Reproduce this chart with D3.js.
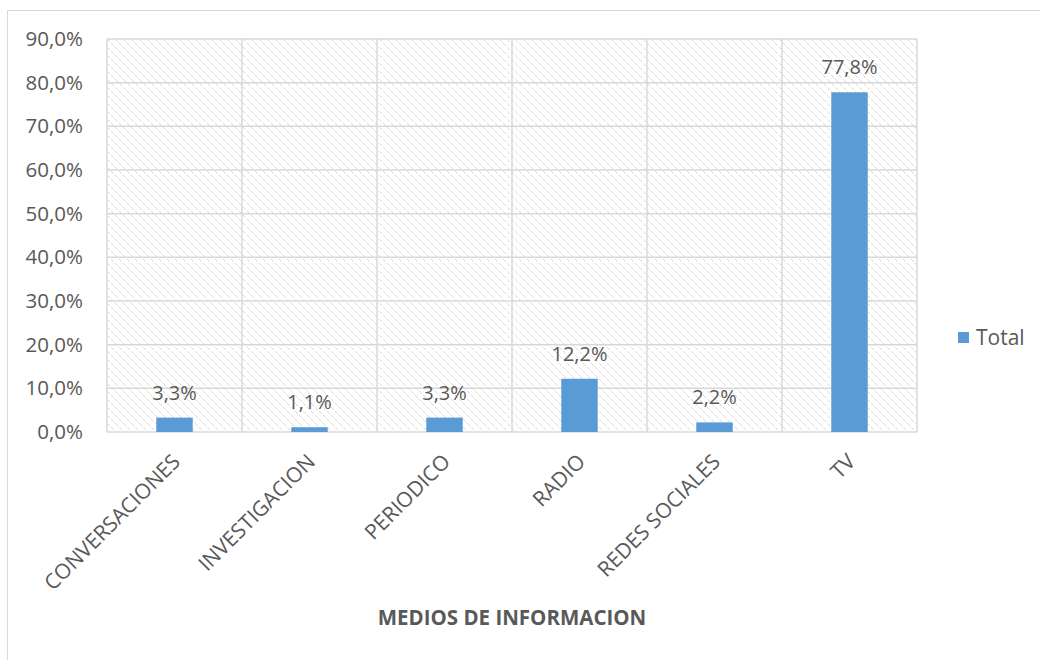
<!DOCTYPE html>
<html>
<head>
<meta charset="utf-8">
<script src="https://cdn.jsdelivr.net/npm/d3@7"></script>
<style>
  body { margin: 0; background: #fff; }
  text { font-family: "Open Sans", "Noto Sans", sans-serif; fill: #595959; }
</style>
</head>
<body>
<script>
const categories = ['CONVERSACIONES', 'INVESTIGACION', 'PERIODICO', 'RADIO', 'REDES SOCIALES', 'TV']
const totals = [3.3, 1.1, 3.3, 12.2, 2.2, 77.8]
const yTicks = [0, 10, 20, 30, 40, 50, 60, 70, 80, 90]
const seriesName = 'Total'

const width = 1040
const height = 660
const margin = {top: 39, right: 123, bottom: 228, left: 107}
const plotW = width - margin.left - margin.right
const plotH = height - margin.top - margin.bottom
const fmt = v => d3.format('.1f')(v).replace('.', ',') + '%'

const svg = d3.select('body').append('svg')
  .attr('width', width)
  .attr('height', height)

// outer chart border
svg.append('rect')
  .attr('x', 7.5).attr('y', 10.5)
  .attr('width', width).attr('height', height)
  .attr('fill', 'none')
  .attr('stroke', '#d9d9d9')

// pixel hatch like excel's light downward diagonal
const defs = svg.append('defs')
const pat = defs.append('pattern')
  .attr('id', 'hatch')
  .attr('patternUnits', 'userSpaceOnUse')
  .attr('width', 8).attr('height', 8)
pat.selectAll('rect')
  .data(d3.range(8).filter(i => i % 4 !== 3))
  .enter()
  .append('rect')
  .attr('x', i => i).attr('y', i => i)
  .attr('width', 1).attr('height', 1)
  .attr('fill', '#d9d9d9')

const chart = svg.append('g')
  .attr('transform', `translate(${margin.left},${margin.top})`)

const x = d3.scaleBand()
  .domain(categories)
  .range([0, plotW])
  .paddingInner(0.73)
  .paddingOuter(0.365)

const xb = d3.scaleBand()
  .domain(categories)
  .range([0, plotW])

const y = d3.scaleLinear()
  .domain([0, 90])
  .range([plotH, 0])

chart.append('rect')
  .attr('width', plotW).attr('height', plotH)
  .attr('fill', 'url(#hatch)')
  .attr('shape-rendering', 'crispEdges')

// horizontal gridlines
chart.append('g')
  .selectAll('line')
  .data(yTicks)
  .enter()
  .append('line')
  .attr('x1', 0).attr('x2', plotW)
  .attr('y1', d => y(d)).attr('y2', d => y(d))
  .attr('stroke', '#d9d9d9')
  .attr('stroke-width', 1.5)

// vertical category separators
chart.append('g')
  .selectAll('line')
  .data(categories.concat(['end']))
  .enter()
  .append('line')
  .attr('x1', d => d === 'end' ? plotW : xb(d))
  .attr('x2', d => d === 'end' ? plotW : xb(d))
  .attr('y1', 0).attr('y2', plotH)
  .attr('stroke', '#d9d9d9')
  .attr('stroke-width', 1.5)

const yAxis = d3.axisLeft(y)
  .tickValues(yTicks)
  .tickFormat(fmt)
  .tickSize(0)
  .tickPadding(24)
const yg = chart.append('g').call(yAxis)
yg.select('.domain').remove()
yg.selectAll('text')
  .style('font-size', '20.5px')
  .style('font-family', '"Open Sans", sans-serif')
  .attr('fill', '#595959')

chart.selectAll('.bar')
  .data(totals)
  .enter()
  .append('rect')
  .attr('class', 'bar')
  .attr('x', (d, i) => x(categories[i]))
  .attr('y', d => y(d))
  .attr('width', x.bandwidth())
  .attr('height', d => plotH - y(d))
  .attr('fill', '#5b9bd5')

chart.selectAll('.val')
  .data(totals)
  .enter()
  .append('text')
  .attr('class', 'val')
  .attr('x', (d, i) => x(categories[i]) + x.bandwidth() / 2)
  .attr('y', d => y(d) - 18)
  .attr('text-anchor', 'middle')
  .style('font-size', '20px')
  .text(fmt)

// rotated category labels
chart.selectAll('.cat')
  .data(categories)
  .enter()
  .append('text')
  .attr('class', 'cat')
  .attr('transform', d => `translate(${xb(d) + xb.bandwidth() / 2 + 7},${plotH + 31}) rotate(-45)`)
  .attr('text-anchor', 'end')
  .style('font-size', '21px')
  .text(d => d)

svg.append('text')
  .attr('x', margin.left + plotW / 2)
  .attr('y', 625)
  .attr('text-anchor', 'middle')
  .style('font-size', '20.5px')
  .style('font-weight', 'bold')
  .text('MEDIOS DE INFORMACION')

// legend
const legend = svg.append('g').attr('transform', 'translate(958,332)')
legend.append('rect').attr('width', 11).attr('height', 11).attr('fill', '#5b9bd5')
legend.append('text')
  .attr('x', 18).attr('y', 6)
  .attr('dy', '0.35em')
  .style('font-size', '21px')
  .text(seriesName)
</script>
</body>
</html>
